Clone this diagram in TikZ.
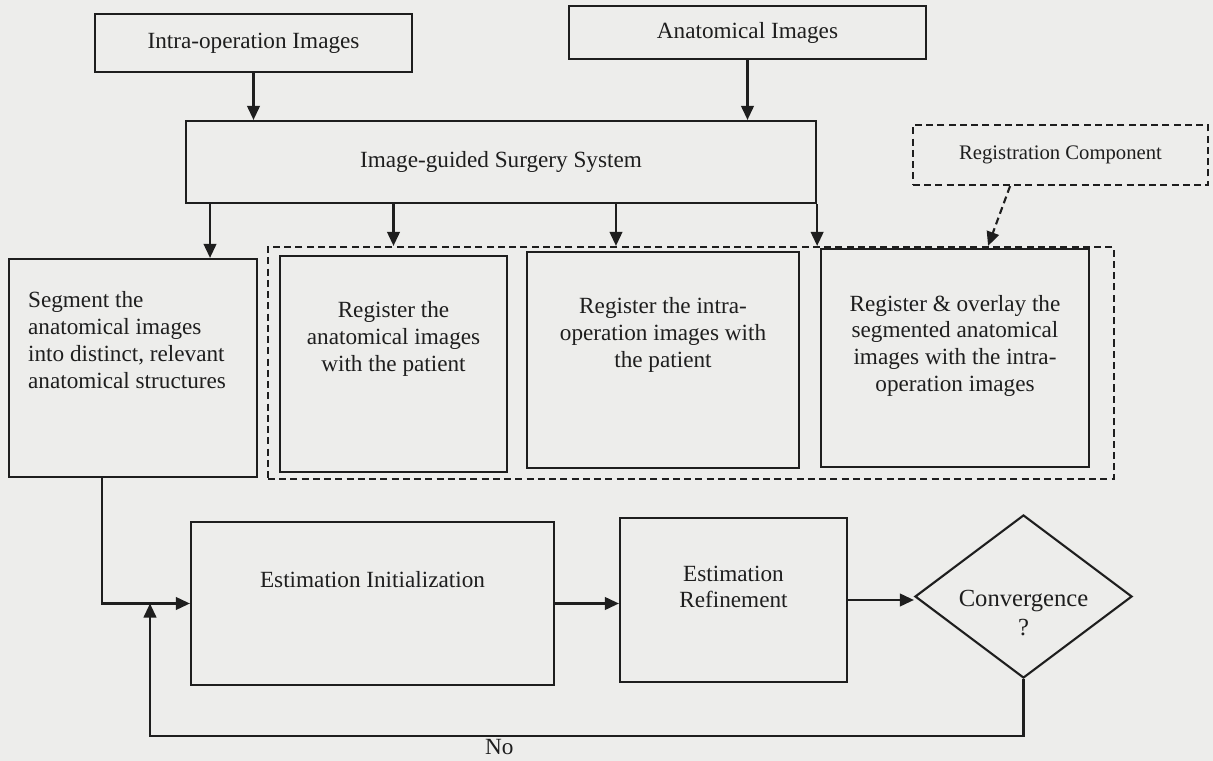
\documentclass[tikz,border=0pt]{standalone}
\usepackage{fontspec}
\setmainfont{Liberation Serif}
\usetikzlibrary{positioning, arrows.meta, shapes.geometric}
\definecolor{ink}{HTML}{1E1E1E}
\definecolor{paper}{HTML}{EDEDEB}

\begin{document}
\begin{tikzpicture}[
  x=0.025cm, y=-0.025cm,
  every node/.style={font=\fontsize{16.5}{19}\selectfont, text=ink},
  every label/.style={align=center, inner sep=0pt},
  box/.style={
    rectangle, draw=ink, line width=1.5pt, inner sep=0pt,
  },
  dashbox/.style={
    rectangle, draw=ink, line width=1.5pt, inner sep=0pt,
    dash pattern=on 5pt off 3pt,
  },
  edge/.style={-{Triangle[length=10pt,width=9pt]}, line width=1.5pt, draw=ink},
]
\path[use as bounding box, fill=paper] (0,0) rectangle (1213,761);

% inputs and the surgery system
\node[box, minimum width=7.925cm, minimum height=1.45cm] (intra) at (253.5,43) {Intra-operation Images};
\node[box, minimum width=8.925cm, minimum height=1.325cm] (anat) at (747.5,32.5) {Anatomical Images};
\node[box, minimum width=15.75cm, minimum height=2.05cm] (igs) at (501,162) {Image-guided Surgery System};
\node[dashbox, minimum width=7.375cm, minimum height=1.5cm,
  font=\fontsize{14.7}{17}\selectfont] (regcomp) at (1060.5,155) {Registration Component};

% segmentation and registration steps
\node[box, minimum width=6.2cm, minimum height=5.45cm,
  label={[align=left, xshift=-0.15cm, yshift=0.7cm]center:{Segment the\\anatomical images\\into distinct, relevant\\anatomical structures}}] (seg) at (133,368) {};
\node[dashbox, minimum width=21.15cm, minimum height=5.8cm] (area) at (691,363) {};
\node[box, minimum width=5.675cm, minimum height=5.4cm,
  label={[yshift=0.625cm]center:{Register the\\anatomical images\\with the patient}}] (rega) at (393.5,364) {};
\node[box, minimum width=6.8cm, minimum height=5.4cm,
  label={[yshift=0.625cm]center:{Register the intra-\\operation images with\\the patient}}] (regi) at (663,360) {};
\node[box, minimum width=6.7cm, minimum height=5.45cm,
  label={[yshift=0.31cm]center:{Register \& overlay the\\segmented anatomical\\images with the intra-\\operation images}}] (rego) at (955,358) {};

% estimation loop
\node[box, minimum width=9.075cm, minimum height=4.075cm,
  label={[yshift=0.59cm]center:Estimation Initialization}] (ei) at (372.5,603.5) {};
\node[box, minimum width=5.675cm, minimum height=4.1cm,
  label={[yshift=0.325cm]center:{Estimation\\Refinement}}] (er) at (733.5,600) {};
\node[diamond, draw=ink, line width=1.5pt, inner sep=0pt,
  minimum width=5.425cm, minimum height=4.075cm,
  label={[yshift=-0.41cm, font=\fontsize{17.5}{21}\selectfont]center:{Convergence\\?}}] (conv) at (1023.5,596.5) {};

\coordinate (s1) at ([xshift=1.925cm]seg.north);
\coordinate (s3) at ([xshift=-1.175cm]regi.north);
\coordinate (fb) at (150,736);

\draw[edge] (intra.south) -- (intra.south |- igs.north);
\draw[edge] (anat.south) -- (anat.south |- igs.north);
\draw[edge] (igs.south -| s1) -- (s1);
\draw[edge] (igs.south -| rega.north) -- (rega.north |- area.north);
\draw[edge] (igs.south -| s3) -- (s3 |- area.north);
\draw[edge] (igs.south east) -- (igs.south east |- area.north);
\draw[edge, dash pattern=on 5pt off 3pt] ([xshift=-1.26cm]regcomp.south) -- ([xshift=7.425cm]area.north);
\draw[edge] ([xshift=-0.775cm]seg.south) |- (ei.west);
\draw[edge] (ei.east) -- (ei.east -| er.west);
\draw[edge] (er.east) -- (er.east -| conv.west);
\draw[edge] (conv.south) |- node[pos=0.8, below, inner sep=1.5pt] {No} (fb) -- (fb |- ei.west);
\end{tikzpicture}
\end{document}
